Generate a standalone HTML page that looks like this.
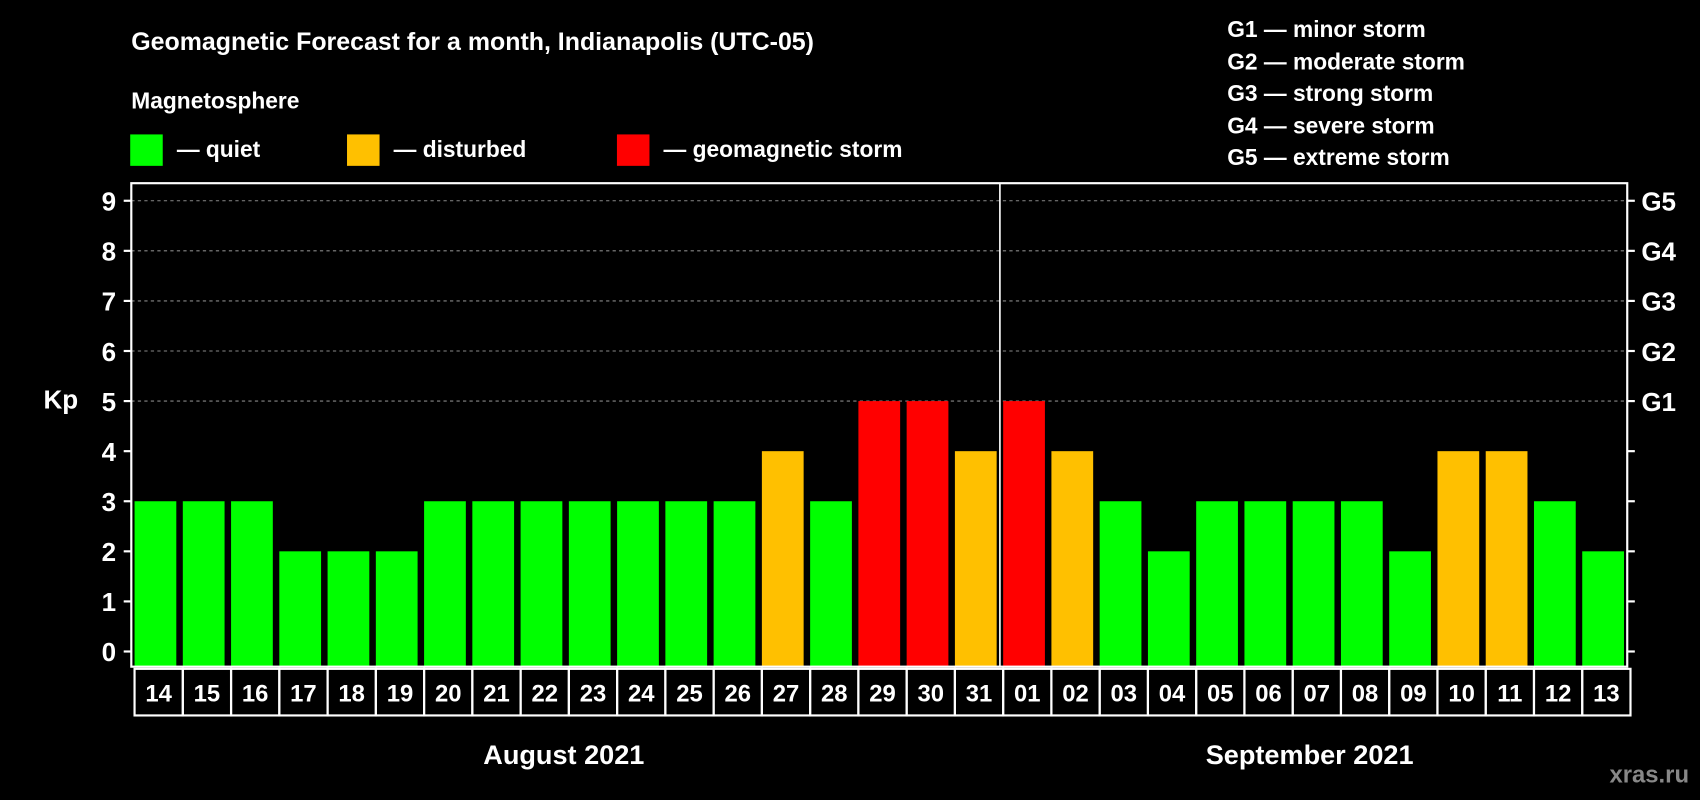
<!DOCTYPE html>
<html><head><meta charset="utf-8"><style>
html,body{margin:0;padding:0;background:#000;}
svg{display:block;font-family:"Liberation Sans",Arial,sans-serif;font-weight:bold;}
</style></head><body>
<svg id="chart" width="1700" height="800" viewBox="0 0 1568 738" xmlns="http://www.w3.org/2000/svg">
<rect width="1568" height="738" fill="#000"/>
<text x="121" y="46" fill="#fff" font-size="23">Geomagnetic Forecast for a month, Indianapolis (UTC-05)</text>
<text x="121" y="100" fill="#fff" font-size="21">Magnetosphere</text>
<g><rect x="120" y="124" width="30" height="29" fill="#00ff00"/><text x="163" y="145" fill="#fff" font-size="21">— quiet</text></g>
<g><rect x="320" y="124" width="30" height="29" fill="#ffc000"/><text x="363" y="145" fill="#fff" font-size="21">— disturbed</text></g>
<g><rect x="569" y="124" width="30" height="29" fill="#ff0000"/><text x="612" y="145" fill="#fff" font-size="21">— geomagnetic storm</text></g>
<g fill="#fff" font-size="21">
<text x="1132" y="34">G1 — minor storm</text>
<text x="1132" y="64">G2 — moderate storm</text>
<text x="1132" y="93">G3 — strong storm</text>
<text x="1132" y="123">G4 — severe storm</text>
<text x="1132" y="152">G5 — extreme storm</text>
</g>
<text x="40" y="377" fill="#fff" font-size="24">Kp</text>
<g id="grid"></g><g id="bars"></g><g id="axes"></g><g id="dates"></g>
<text x="520" y="705" fill="#fff" font-size="25" text-anchor="middle">August 2021</text>
<text x="1208" y="705" fill="#fff" font-size="25" text-anchor="middle">September 2021</text>
<text x="1558" y="722" fill="#888" font-size="22" text-anchor="end">xras.ru</text>
</svg>
<script>
const days = ["14","15","16","17","18","19","20","21","22","23","24","25","26","27","28","29","30","31","01","02","03","04","05","06","07","08","09","10","11","12","13"];
const kpValues = [3,3,3,2,2,2,3,3,3,3,3,3,3,4,3,5,5,4,5,4,3,2,3,3,3,3,2,4,4,3,2];
const yTicks = [0,1,2,3,4,5,6,7,8,9];
const gLabels = ["","","","","","G1","G2","G3","G4","G5"];
const NS="http://www.w3.org/2000/svg";
const L=121,R=1501,T=169,B=615;
const y0=601,unit=46.2;
const step=(R-L)/days.length;
const ys=v=>y0-v*unit;
const xs=i=>L+i*step;
function mk(t,a,p){const e=document.createElementNS(NS,t);for(const k in a)e.setAttribute(k,a[k]);p.appendChild(e);return e;}
const grid=document.getElementById('grid'),bars=document.getElementById('bars'),axes=document.getElementById('axes'),dates=document.getElementById('dates');
yTicks.forEach((v,i)=>{
  if(v>=5){const g=mk('line',{x1:L,x2:R,y1:ys(v),y2:ys(v),stroke:'#888','stroke-dasharray':'3,3','stroke-width':1},grid);
  }
  const t1=mk('line',{x1:L-7,x2:L,y1:ys(v),y2:ys(v),stroke:'#fff','stroke-width':2},axes);
  
  const t2=mk('line',{x1:R,x2:R+7,y1:ys(v),y2:ys(v),stroke:'#fff','stroke-width':2},axes);
  
  const lb=mk('text',{x:L-14,y:ys(v)+9,fill:'#fff','font-size':24,'text-anchor':'end'},axes);lb.textContent=v;
  
  if(gLabels[i]){const g=mk('text',{x:R+13,y:ys(v)+9,fill:'#fff','font-size':24},axes);g.textContent=gLabels[i];
  }
});
kpValues.forEach((v,i)=>{
  const c=v>=5?'#ff0000':(v>=4?'#ffc000':'#00ff00');
  const b=mk('rect',{x:xs(i)+3,y:ys(v),width:step-6,height:B-ys(v),fill:c},bars);
  
  const d=mk('rect',{x:xs(i)+3,y:617,width:step,height:43,fill:'none',stroke:'#fff','stroke-width':2},dates);
  
  const t=mk('text',{x:xs(i)+3+step/2,y:647,fill:'#fff','font-size':22,'text-anchor':'middle'},dates);t.textContent=days[i];
  
});
const fr=mk('rect',{x:L,y:T,width:R-L,height:B-T,fill:'none',stroke:'#fff','stroke-width':2},axes);

const dv=mk('line',{x1:xs(18),x2:xs(18),y1:T,y2:B,stroke:'#fff','stroke-width':1.5},axes);

</script>
</body></html>
